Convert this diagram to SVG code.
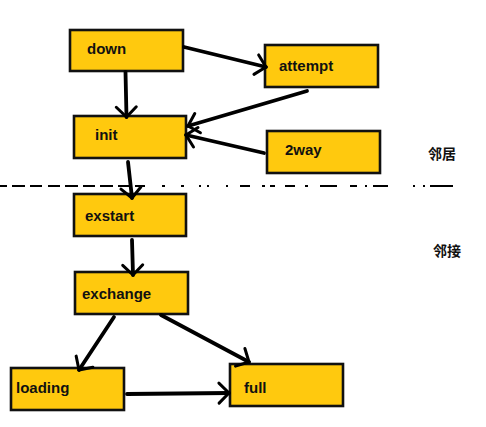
<svg xmlns="http://www.w3.org/2000/svg" width="486" height="427" viewBox="0 0 486 427">
<style>
.box{fill:#FFC90E;stroke:#111;stroke-width:2.6}
.lbl{font-family:"Liberation Sans",Arial,sans-serif;font-weight:bold;font-size:15px;fill:#111}
.cjk{font-family:"Noto Sans CJK SC",sans-serif;font-weight:bold;font-size:14px;fill:#111}
.edge{fill:none;stroke:#000;stroke-width:3.8;stroke-linecap:round}
.sep{fill:none;stroke:#000;stroke-width:2}
</style>
<defs>
<marker id="arr" markerUnits="userSpaceOnUse" viewBox="-14 -14 16 28" markerWidth="16" markerHeight="28" refX="0" refY="0" orient="auto" overflow="visible">
<path d="M-10,-10 L0,0 L-10,10" fill="none" stroke="#000" stroke-width="3" stroke-linecap="round" stroke-linejoin="round"/>
</marker>
</defs>
<rect width="486" height="427" fill="#fff"/>
<path class="sep" d="M0,186 H7 M12,186 H25 M30,186 H42 M48,186 H60 M65,186 H78 M83,186 H95 M100,186 H113 M118,186 H130 M135,186 H145 M162,186 H165 M181,186 H184 M199,186 H201 M207,186 H209 M226,186 H228 M240,186 H250 M262,186 H265 M270,186 H275 M285,186 H295 M305,186 H308 M320,186 H337 M350,186 H357 M365,186 H367 M373,186 H388 M413,186 H415 M423,186 H425 M430,186 H453"/>
<g id="down"><rect class="box" x="70" y="30" width="113" height="41"/><text class="lbl" x="87" y="54">down</text></g>
<g id="attempt"><rect class="box" x="265" y="45" width="113" height="42"/><text class="lbl" x="279" y="71">attempt</text></g>
<g id="init"><rect class="box" x="74" y="116" width="112" height="42"/><text class="lbl" x="95" y="140">init</text></g>
<g id="2way"><rect class="box" x="267" y="131" width="113" height="42"/><text class="lbl" x="285" y="155">2way</text></g>
<g id="exstart"><rect class="box" x="74" y="194" width="112" height="42"/><text class="lbl" x="85" y="221">exstart</text></g>
<g id="exchange"><rect class="box" x="75" y="272" width="113" height="42"/><text class="lbl" x="82" y="299">exchange</text></g>
<g id="loading"><rect class="box" x="11" y="368" width="113" height="42"/><text class="lbl" x="16" y="393">loading</text></g>
<g id="full"><rect class="box" x="230" y="364" width="113" height="42"/><text class="lbl" x="244" y="393">full</text></g>
<g id="label-neighbor"><text class="cjk" x="428" y="159">邻居</text></g>
<g id="label-adjacency"><text class="cjk" x="433" y="256">邻接</text></g>
<g id="connectors">
<path class="edge" marker-end="url(#arr)" d="M125.5,72 L126.5,117"/>
<path class="edge" marker-end="url(#arr)" d="M184,47 L266,67"/>
<path class="edge" marker-end="url(#arr)" d="M307,91 L188,126"/>
<path class="edge" marker-end="url(#arr)" d="M264,153 L186,135"/>
<path class="edge" marker-end="url(#arr)" d="M128,162 L132,198"/>
<path class="edge" marker-end="url(#arr)" d="M132,240 L133,275"/>
<path class="edge" marker-end="url(#arr)" d="M114,317 L79,370"/>
<path class="edge" marker-end="url(#arr)" d="M161,315 L249,362"/>
<path class="edge" marker-end="url(#arr)" d="M127,394 L229,393"/>
</g>
</svg>
